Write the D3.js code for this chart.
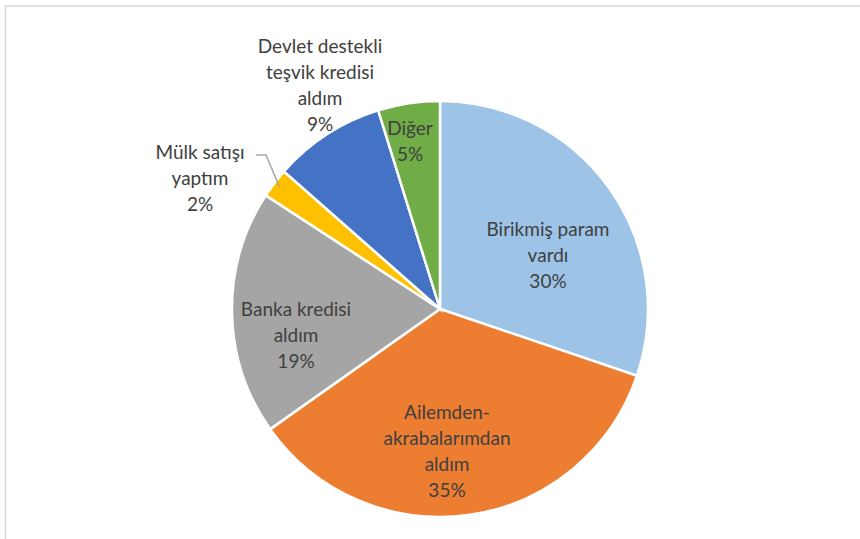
<!DOCTYPE html>
<html>
<head>
<meta charset="utf-8">
<script src="https://cdn.jsdelivr.net/npm/d3@7"></script>
<style>
  body { margin: 0; background: #fff; }
  svg text { font-family: Lato, "Open Sans", sans-serif; fill: #404040; }
</style>
</head>
<body>
<svg id="chart"></svg>
<script>
// data
var categories = ["Birikmiş param vardı", "Ailemden-akrabalarımdan aldım", "Banka kredisi aldım",
                  "Mülk satışı yaptım", "Devlet destekli teşvik kredisi aldım", "Diğer"];
var values = [30.2, 35.0, 19.0, 2.3, 8.7, 4.8];
var labelLines = [
    ["Birikmiş param", "vardı"],
    ["Ailemden-", "akrabalarımdan", "aldım"],
    ["Banka kredisi", "aldım"],
    ["Mülk satışı", "yaptım"],
    ["Devlet destekli", "teşvik kredisi", "aldım"],
    ["Diğer"]
];
var colors = ["#9dc3e6", "#ed7d31", "#a5a5a5", "#ffc000", "#4472c4", "#70ad47"];

var width = 860;
var height = 539;
var cx = 440, cy = 309, radius = 208;
var lineH = 26;

var svg = d3.select("#chart").attr("width", width).attr("height", height);

// frame of the chart area
svg.append("rect")
    .attr("x", 5.5).attr("y", 6)
    .attr("width", width + 10).attr("height", height + 10)
    .attr("fill", "none")
    .attr("stroke", "#d9d9d9")
    .attr("stroke-width", 1.5);

var pie = d3.pie().sort(null).value(function(d) { return d; });
var arcs = pie(values);
var arc = d3.arc().innerRadius(0).outerRadius(radius);

var g = svg.append("g").attr("transform", "translate(" + cx + "," + cy + ")");

g.selectAll(".slice")
    .data(arcs)
    .enter()
    .append("path")
    .attr("class", "slice")
    .attr("d", arc)
    .attr("fill", function(d, i) { return colors[i]; })
    .attr("stroke", "#fff")
    .attr("stroke-width", 2.5);

// label centres (relative to pie centre), placed like the original
var labelPos = [[108, -54], [7, 142], [-144, 26], [-240, -131], [-120, -224], [-30, -168]];

var labels = g.selectAll(".lbl")
    .data(arcs)
    .enter()
    .append("text")
    .attr("class", "lbl")
    .attr("text-anchor", "middle")
    .style("font-size", "19px");

labels.each(function(d, i) {
    var lines = labelLines[i].concat([Math.round(values[i]) + "%"]);
    var p = labelPos[i];
    var top = p[1] - (lines.length - 1) * lineH / 2;
    var t = d3.select(this);
    lines.forEach(function(s, k) {
        t.append("tspan")
            .attr("x", p[0])
            .attr("y", top + k * lineH)
            .attr("dy", "0.35em")
            .text(s);
    });
});

// leader line for the small slice
var small = arcs[3];
var edge = d3.arc().innerRadius(radius * 0.97).outerRadius(radius * 0.97).centroid(small);
g.append("polyline")
    .attr("points", [[-184, -154], [-174, -154], edge].map(function(p) { return p.join(","); }).join(" "))
    .attr("fill", "none")
    .attr("stroke", "#a6a6a6")
    .attr("stroke-width", 1.5);
</script>
</body>
</html>
